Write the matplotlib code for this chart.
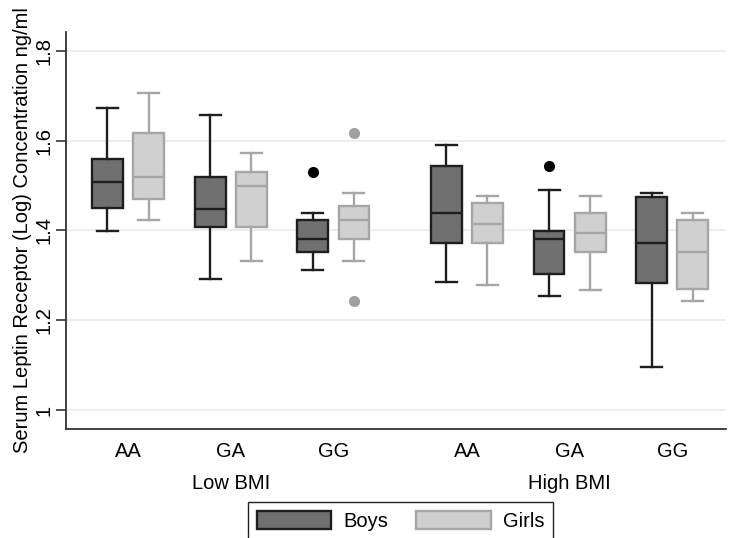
import matplotlib
matplotlib.use('Agg')
import matplotlib.pyplot as plt
from matplotlib.patches import Patch

plt.rcParams['font.family'] = ['Liberation Sans', 'DejaVu Sans']

genotypes = ['AA', 'GA', 'GG', 'AA', 'GA', 'GG']
groups = ['Low BMI', 'High BMI']

# boys: one value per genotype/BMI cell
boys_whislo = [1.398, 1.291, 1.311, 1.286, 1.255, 1.097]
boys_q1 = [1.451, 1.407, 1.352, 1.373, 1.303, 1.284]
boys_med = [1.508, 1.447, 1.380, 1.440, 1.380, 1.372]
boys_q3 = [1.560, 1.519, 1.423, 1.544, 1.398, 1.474]
boys_whishi = [1.673, 1.656, 1.439, 1.590, 1.491, 1.483]
boys_fliers = [[], [], [1.531], [], [1.544], []]

# girls
girls_whislo = [1.423, 1.333, 1.333, 1.278, 1.268, 1.243]
girls_q1 = [1.471, 1.407, 1.381, 1.373, 1.353, 1.269]
girls_med = [1.519, 1.499, 1.423, 1.414, 1.395, 1.352]
girls_q3 = [1.616, 1.531, 1.455, 1.462, 1.440, 1.424]
girls_whishi = [1.707, 1.573, 1.483, 1.477, 1.477, 1.439]
girls_fliers = [[], [], [1.618, 1.244], [], [], []]

centers = [0, 1, 2, 3.3, 4.3, 5.3]
off = 0.2
bw = 0.30
fs = 14.5


def stats(lo, q1, med, q3, hi, fl):
    return [dict(whislo=a, q1=b, med=c, q3=d, whishi=e, fliers=f)
            for a, b, c, d, e, f in zip(lo, q1, med, q3, hi, fl)]


def draw(ax, st, pos, face, edge, flier):
    ax.bxp(st, positions=pos, widths=bw, patch_artist=True, showfliers=True,
           capwidths=bw * 0.68,
           boxprops=dict(facecolor=face, edgecolor=edge, linewidth=1.7),
           medianprops=dict(color=edge, linewidth=1.7),
           whiskerprops=dict(color=edge, linewidth=1.7),
           capprops=dict(color=edge, linewidth=1.7),
           flierprops=dict(marker='o', markerfacecolor=flier,
                           markeredgecolor=flier, markersize=7))


fig = plt.figure(figsize=(7.29, 5.38), dpi=100)
ax = fig.add_axes([0.0905, 0.2026, 0.905, 0.738])

boys_st = stats(boys_whislo, boys_q1, boys_med, boys_q3, boys_whishi, boys_fliers)
girls_st = stats(girls_whislo, girls_q1, girls_med, girls_q3, girls_whishi, girls_fliers)
draw(ax, boys_st, [c - off for c in centers], '#707070', '#1e1e1e', '#000000')
draw(ax, girls_st, [c + off for c in centers], '#d0d0d0', '#a6a6a6', '#a0a0a0')

ax.set_xlim(-0.604, 5.82)
ax.set_ylim(0.958, 1.842)
ax.set_yticks([1, 1.2, 1.4, 1.6, 1.8])
ax.set_yticklabels(['1', '1.2', '1.4', '1.6', '1.8'], rotation=90, va='center')
ax.set_xticks(centers)
ax.set_xticklabels(genotypes)
ax.tick_params(axis='x', length=0, labelsize=fs, pad=9)
ax.tick_params(axis='y', length=7, width=1.2, color='#333333', labelsize=fs, pad=2)
ax.grid(axis='y', color='#e4eeec', linewidth=1.2)
ax.set_axisbelow(True)
for s in ['top', 'right']:
    ax.spines[s].set_visible(False)
for s in ['left', 'bottom']:
    ax.spines[s].set_color('#333333')
    ax.spines[s].set_linewidth(1.3)

ax.set_ylabel('Serum Leptin Receptor (Log) Concentration ng/ml', fontsize=fs, labelpad=1.5)

for i, g in enumerate(groups):
    gx = (centers[3 * i] + centers[3 * i + 2]) / 2
    ax.text(gx, -0.137, g, transform=ax.get_xaxis_transform(),
            ha='center', va='center', fontsize=fs)

handles = [Patch(facecolor='#707070', edgecolor='#1e1e1e', linewidth=1.7, label='Boys'),
           Patch(facecolor='#d0d0d0', edgecolor='#a6a6a6', linewidth=1.7, label='Girls')]
fig.legend(handles=handles, loc='upper center', bbox_to_anchor=(0.5494, 0.0669),
           ncol=2, fancybox=False, edgecolor='#222222', fontsize=fs,
           handlelength=3.7, handleheight=1.0, borderpad=0.45, borderaxespad=0,
           columnspacing=1.4, handletextpad=0.6, framealpha=1)

fig.savefig('out.png', dpi=100)
